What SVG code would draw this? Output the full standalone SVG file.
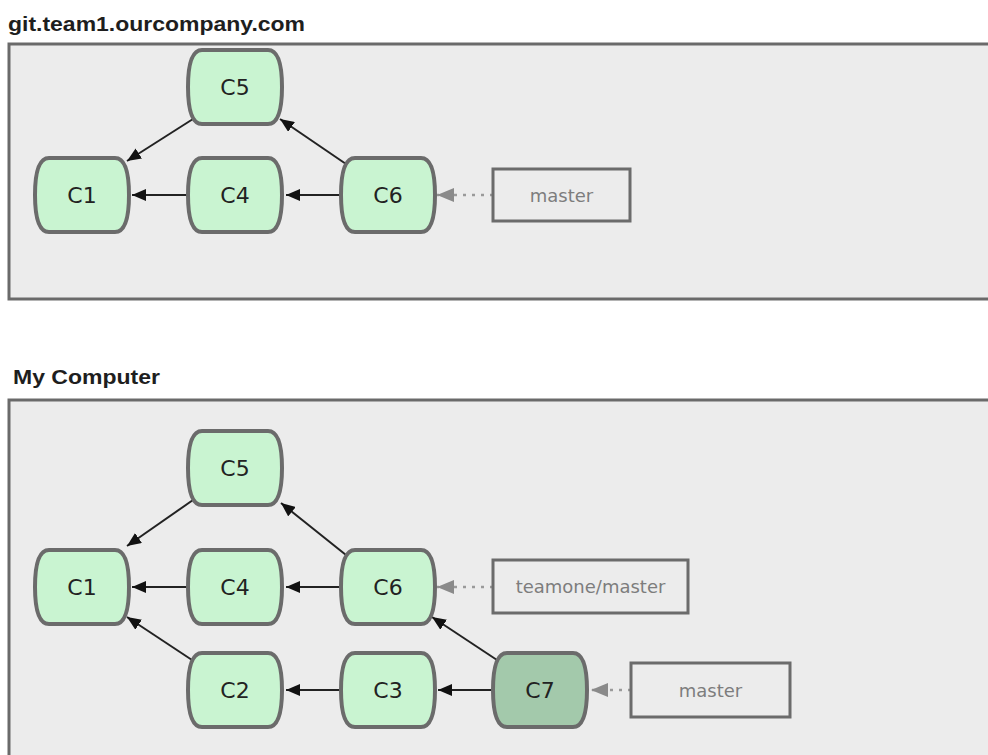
<svg xmlns="http://www.w3.org/2000/svg" xmlns:xlink="http://www.w3.org/1999/xlink" width="988" height="755" viewBox="0 0 988 755">
<style>
.panel{fill:#ececec;stroke:#6a6a6a;stroke-width:3}
.title{font-family:"Liberation Sans",Arial,sans-serif;font-weight:bold;font-size:20px;fill:#1e1e1e}
.commit{fill:#c9f4d1;stroke:#6b6b6b;stroke-width:4}
.commit.cur{fill:#a3c9ab}
.clabel{font-family:"DejaVu Sans",sans-serif;font-size:22px;fill:#222;text-anchor:middle;dominant-baseline:central}
.ref{fill:#ececec;stroke:#6b6b6b;stroke-width:3}
.rlabel{font-family:"DejaVu Sans",sans-serif;font-size:18px;fill:#7d7d7d;text-anchor:middle;dominant-baseline:central}
.edge{stroke:#222;stroke-width:2;fill:none;marker-end:url(#ah)}
.refedge{stroke:#9a9a9a;stroke-width:2.5;stroke-dasharray:3 6;fill:none;marker-end:url(#gah)}
</style>
<defs>
<path id="commitShape" d="M14,0 H80 C92,0 94,22 94,37 C94,52 92,74 80,74 H14 C2,74 0,52 0,37 C0,22 2,0 14,0 Z"/>
<marker id="ah" markerUnits="userSpaceOnUse" markerWidth="15" markerHeight="12" refX="14" refY="6" orient="auto">
<path d="M0,0 L14,6 L0,12 Z" fill="#111"/>
</marker>
<marker id="gah" markerUnits="userSpaceOnUse" markerWidth="18" markerHeight="14" refX="17" refY="7" orient="auto">
<path d="M0,0 L17,7 L0,14 Z" fill="#8a8a8a"/>
</marker>
</defs>

<g id="panel-remote">
<text class="title" x="8" y="31" textLength="297" lengthAdjust="spacingAndGlyphs">git.team1.ourcompany.com</text>
<rect class="panel" x="9" y="44" width="1000" height="255"/>
</g>
<g id="panel-local">
<text class="title" x="13" y="384" textLength="147" lengthAdjust="spacingAndGlyphs">My Computer</text>
<rect class="panel" x="9" y="400" width="1000" height="400"/>
</g>

<g id="connectors">
<line class="edge" x1="193" y1="119" x2="127" y2="161"/>
<line class="edge" x1="187" y1="195" x2="132" y2="195"/>
<line class="edge" x1="340" y1="195" x2="286" y2="195"/>
<line class="edge" x1="346" y1="164" x2="280" y2="119"/>
<line class="refedge" x1="493" y1="195" x2="437" y2="195"/>

<line class="edge" x1="193" y1="500" x2="127" y2="546"/>
<line class="edge" x1="187" y1="587" x2="132" y2="587"/>
<line class="edge" x1="340" y1="587" x2="286" y2="587"/>
<line class="edge" x1="346" y1="555" x2="281" y2="503"/>
<line class="edge" x1="192" y1="660" x2="127" y2="617"/>
<line class="edge" x1="340" y1="690" x2="286" y2="690"/>
<line class="edge" x1="497" y1="660" x2="432" y2="617"/>
<line class="edge" x1="492" y1="690" x2="438" y2="690"/>
<line class="refedge" x1="493" y1="587" x2="437" y2="587"/>
<line class="refedge" x1="631" y1="690" x2="591" y2="690"/>
</g>

<g id="r-C5"><use href="#commitShape" class="commit" x="188" y="50"/><text class="clabel" x="235" y="87">C5</text></g>
<g id="r-C1"><use href="#commitShape" class="commit" x="35" y="158"/><text class="clabel" x="82" y="195">C1</text></g>
<g id="r-C4"><use href="#commitShape" class="commit" x="188" y="158"/><text class="clabel" x="235" y="195">C4</text></g>
<g id="r-C6"><use href="#commitShape" class="commit" x="341" y="158"/><text class="clabel" x="388" y="195">C6</text></g>
<g id="r-master"><rect class="ref" x="493" y="169" width="137" height="52"/><text class="rlabel" x="561.5" y="195">master</text></g>

<g id="l-C5"><use href="#commitShape" class="commit" x="188" y="431"/><text class="clabel" x="235" y="468">C5</text></g>
<g id="l-C1"><use href="#commitShape" class="commit" x="35" y="550"/><text class="clabel" x="82" y="587">C1</text></g>
<g id="l-C4"><use href="#commitShape" class="commit" x="188" y="550"/><text class="clabel" x="235" y="587">C4</text></g>
<g id="l-C6"><use href="#commitShape" class="commit" x="341" y="550"/><text class="clabel" x="388" y="587">C6</text></g>
<g id="l-C2"><use href="#commitShape" class="commit" x="188" y="653"/><text class="clabel" x="235" y="690">C2</text></g>
<g id="l-C3"><use href="#commitShape" class="commit" x="341" y="653"/><text class="clabel" x="388" y="690">C3</text></g>
<g id="l-C7"><use href="#commitShape" class="commit cur" x="493" y="653"/><text class="clabel" x="540" y="690">C7</text></g>
<g id="l-teamone-master"><rect class="ref" x="493" y="560" width="195" height="53"/><text class="rlabel" x="590.5" y="586">teamone/master</text></g>
<g id="l-master"><rect class="ref" x="631" y="663" width="159" height="54"/><text class="rlabel" x="710.5" y="690">master</text></g>
</svg>
